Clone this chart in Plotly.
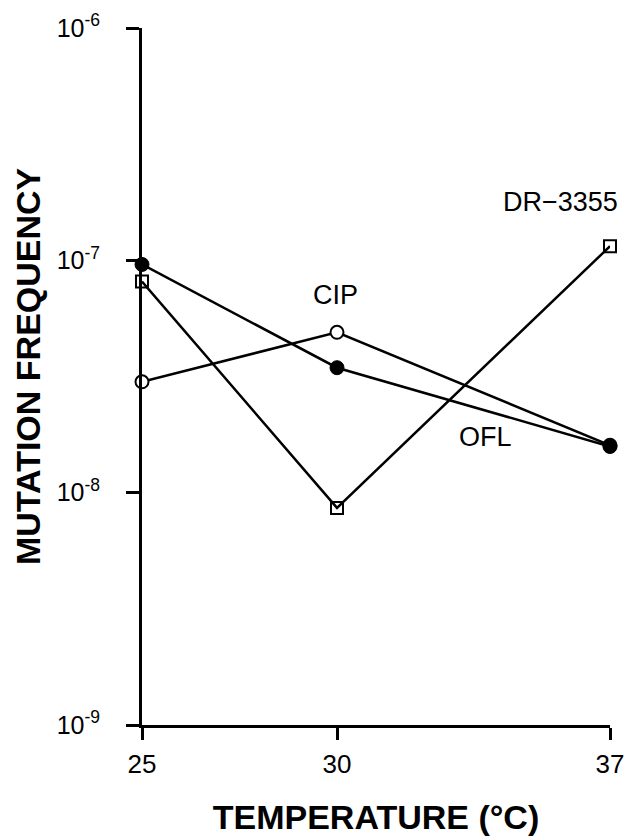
import math
import plotly.graph_objects as go

temperature = [25, 30, 37]
ofl = [9.6e-8, 3.45e-8, 1.58e-8]
cip = [3.0e-8, 4.9e-8, 1.6e-8]
dr3355 = [8.1e-8, 8.6e-9, 1.15e-7]

y_ticks = [1e-9, 1e-8, 1e-7, 1e-6]
y_tick_text = ["10<sup>-9</sup>", "10<sup>-8</sup>", "10<sup>-7</sup>", "10<sup>-6</sup>"]
x_ticks = [25, 30, 37]

# series name labels: (text, temperature, frequency)
series_labels = [("DR−3355", 35.74, 1.78e-7), ("CIP", 29.95, 7.1e-8), ("OFL", 33.82, 1.74e-8)]

FONT = "Liberation Sans, Arial, Helvetica, sans-serif"
line_style = dict(color="black", width=2.5)

fig = go.Figure()
fig.add_trace(go.Scatter(
    x=temperature, y=dr3355, mode="lines+markers", line=line_style,
    marker=dict(symbol="square-open", size=12, color="black", line=dict(width=2)),
    cliponaxis=False, showlegend=False))
fig.add_trace(go.Scatter(
    x=temperature, y=cip, mode="lines+markers", line=line_style,
    marker=dict(symbol="circle", size=13, color="white", line=dict(width=2, color="black")),
    cliponaxis=False, showlegend=False))
fig.add_trace(go.Scatter(
    x=temperature, y=ofl, mode="lines+markers", line=line_style,
    marker=dict(symbol="circle", size=14, color="black", line=dict(width=1, color="black")),
    cliponaxis=False, showlegend=False))

for txt, x, y in series_labels:
    # annotation positions on a log axis are given in log10 units
    fig.add_annotation(x=x, y=math.log10(y), xref="x", yref="y", text=txt, showarrow=False,
                       font=dict(family=FONT, size=27, color="black"),
                       xanchor="center", yanchor="middle")

W, H = 626, 836
M = dict(l=142, r=16, t=28, b=111)
pw, ph = W - M["l"] - M["r"], H - M["t"] - M["b"]

# vertical axis title, centred at (28 px, 366 px from top)
fig.add_annotation(x=(28 - M["l"]) / pw, y=(H - 366 - M["b"]) / ph,
                   xref="paper", yref="paper", text="MUTATION FREQUENCY",
                   showarrow=False, textangle=-90, xanchor="center", yanchor="middle",
                   font=dict(family=FONT, size=34, weight="bold", color="black"))

fig.update_layout(
    width=W, height=H, margin=M,
    paper_bgcolor="white", plot_bgcolor="white",
    font=dict(family=FONT, color="black"),
)

fig.update_xaxes(
    range=[25, 37], tickvals=x_ticks, ticktext=[str(v) for v in x_ticks],
    automargin=False,
    showgrid=False, zeroline=False, showline=True, linecolor="black", linewidth=3,
    ticks="outside", ticklen=12, tickwidth=2.5, tickcolor="black",
    tickfont=dict(family=FONT, size=26), ticklabelstandoff=2,
    title=dict(text="TEMPERATURE (°C)", standoff=35,
               font=dict(family=FONT, size=34, weight="bold")),
)
fig.update_yaxes(
    type="log", range=[-9, -6], tickvals=y_ticks, ticktext=y_tick_text,
    automargin=False,
    showgrid=False, zeroline=False, showline=True, linecolor="black", linewidth=3,
    ticks="outside", ticklen=13, tickwidth=2.5, tickcolor="black",
    tickfont=dict(family=FONT, size=25), ticklabelstandoff=21,
)

fig.write_html("out.html")
